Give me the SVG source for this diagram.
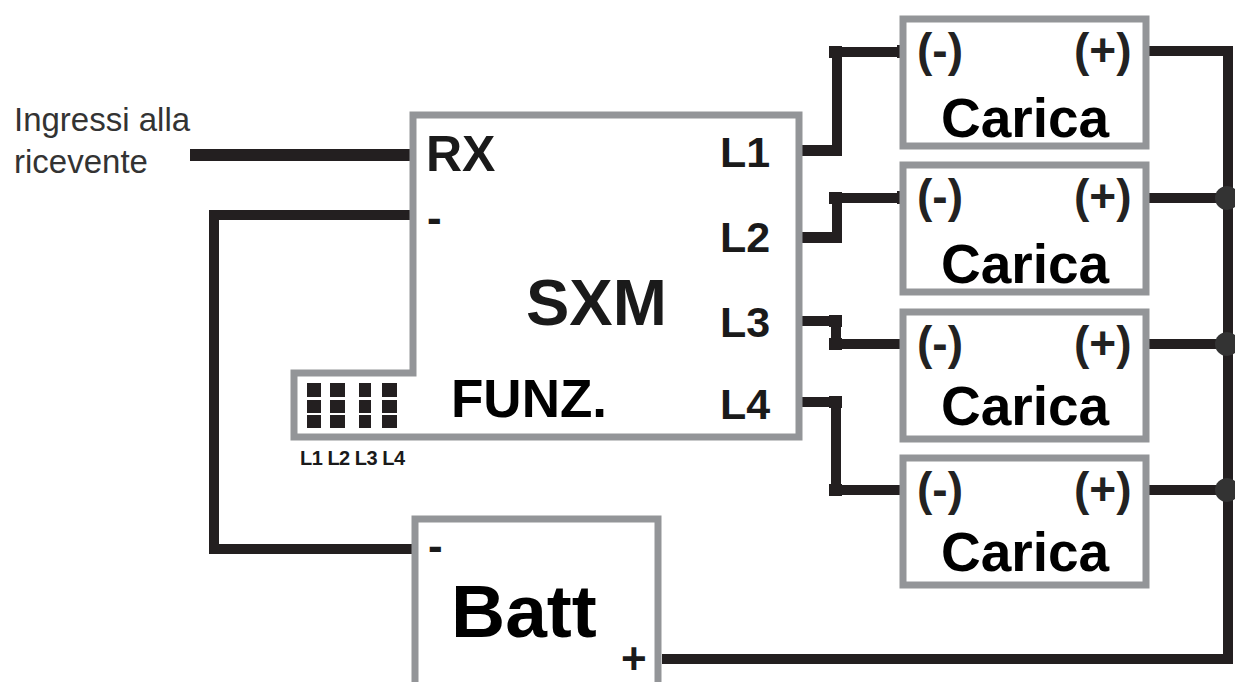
<svg xmlns="http://www.w3.org/2000/svg" width="1235" height="682" viewBox="0 0 1235 682">
<style>
.box{fill:#fff;stroke:#939598;stroke-width:7}
.w{fill:none;stroke:#231f20;stroke-width:10;stroke-linejoin:miter;stroke-linecap:butt}
.pad{fill:#231f20}
.t{font-family:"Liberation Sans",Arial,sans-serif;font-weight:700;fill:#1a1a1a}
.s{font-size:43px}
.p{font-size:46px;fill:#222}
.c{font-size:55px;fill:#000}
.k{fill:#000}
.i{font-family:"Liberation Sans",Arial,sans-serif;font-size:33px;fill:#333}
.led{fill:#231f20}
</style>
<rect width="1235" height="682" fill="#fff"/>
<g id="connectors">
<path class="w" d="M190 155H416" style="stroke-width:12"/>
<path class="w" d="M416 215H214V549H416"/>
<path class="w" d="M798 151H837V52H904"/>
<path class="w" d="M798 238H837V198H904"/>
<path class="w" d="M798 321H836V344H904"/>
<path class="w" d="M798 402H836V490H904"/>
<path class="w" d="M1149 51H1228V659H662"/>
<path class="w" d="M1149 198H1228M1149 344H1228M1149 490H1228"/>
<path class="pad" d="M829 46H842V58H829ZM897 45H904V58H897ZM797 145H842V156H797ZM829 192H842V204H829ZM897 191H904V204H897ZM797 232H842V243H797ZM829 315H842V327H829ZM829 338H842V350H829ZM829 396H842V408H829ZM829 484H842V496H829Z"/>
<circle cx="1227" cy="198" r="12" fill="#333"/>
<circle cx="1227" cy="344" r="12" fill="#333"/>
<circle cx="1227" cy="490" r="12" fill="#333"/>
</g>
<g id="sxm">
<path class="box" d="M413 115H799V437H294V373H413Z"/>
<text class="t" x="426" y="171" font-size="50">RX</text>
<text class="t" x="427" y="233" font-size="44">-</text>
<text class="t" x="526" y="325" font-size="65">SXM</text>
<text class="t k" x="451" y="417" font-size="53">FUNZ.</text>
<text class="t s" x="720" y="167">L1</text>
<text class="t s" x="720" y="252">L2</text>
<text class="t s" x="720" y="337">L3</text>
<text class="t s" x="720" y="419">L4</text>
<g id="leds">
<rect class="led" x="307" y="383" width="14" height="14"/><rect class="led" x="307" y="400" width="14" height="13"/><rect class="led" x="307" y="415" width="14" height="13"/>
<rect class="led" x="330" y="383" width="15" height="14"/><rect class="led" x="330" y="400" width="15" height="13"/><rect class="led" x="330" y="415" width="15" height="13"/>
<rect class="led" x="359" y="383" width="12" height="14"/><rect class="led" x="359" y="400" width="12" height="13"/><rect class="led" x="359" y="415" width="12" height="13"/>
<rect class="led" x="382" y="383" width="15" height="14"/><rect class="led" x="382" y="400" width="15" height="13"/><rect class="led" x="382" y="415" width="15" height="13"/>
</g>
<text class="t" x="300" y="465" font-size="20" textLength="105">L1 L2 L3 L4</text>
</g>
<g id="batt">
<rect class="box" x="415" y="519" width="243" height="170"/>
<text class="t" x="428" y="561" font-size="44">-</text>
<text class="t k" x="451" y="637" font-size="75">Batt</text>
<text class="t" x="621" y="674" font-size="44">+</text>
</g>
<g id="carica1">
<rect class="box" x="903" y="19" width="243" height="127"/>
<text class="t p" x="917" y="66">(-)</text><text class="t p" x="1074" y="66">(+)</text>
<text class="t c" x="941" y="137">Carica</text>
</g>
<g id="carica2">
<rect class="box" x="903" y="165" width="243" height="127"/>
<text class="t p" x="917" y="212">(-)</text><text class="t p" x="1074" y="212">(+)</text>
<text class="t c" x="941" y="283">Carica</text>
</g>
<g id="carica3">
<rect class="box" x="903" y="312" width="243" height="127"/>
<text class="t p" x="917" y="359">(-)</text><text class="t p" x="1074" y="359">(+)</text>
<text class="t c" x="941" y="425">Carica</text>
</g>
<g id="carica4">
<rect class="box" x="903" y="458" width="243" height="127"/>
<text class="t p" x="917" y="505">(-)</text><text class="t p" x="1074" y="505">(+)</text>
<text class="t c" x="941" y="571">Carica</text>
</g>
<g id="ingressi">
<text class="i" x="14" y="131">Ingressi alla</text>
<text class="i" x="14" y="173">ricevente</text>
</g>
</svg>
